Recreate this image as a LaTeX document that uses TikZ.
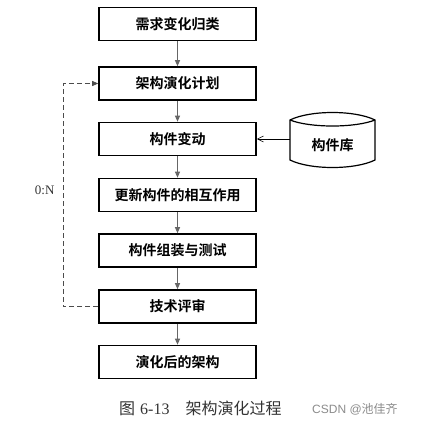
\documentclass[tikz,border=0pt]{standalone}
\usepackage{fontspec}
\setmainfont{Liberation Serif}
\newfontfamily\cjk{Noto Sans CJK SC}[BoldFont={Noto Sans CJK SC Bold}]
\usetikzlibrary{arrows.meta}
\begin{document}
\begin{tikzpicture}[x=1pt,y=-1pt,
  stepbox/.style={draw=black,line width=1.6pt,minimum width=157pt,minimum height=33pt,inner sep=0pt,font=\cjk\bfseries\fontsize{14}{14}\selectfont},
  flow/.style={draw=black!60,line width=1.1pt,-{Triangle[length=6pt,width=5pt]}},
  fb/.style={draw=black!70,line width=0.8pt,dash pattern=on 5pt off 3pt,-{Triangle[length=6pt,width=5pt]}},
  lib/.style={draw=black,line width=0.6pt,-{Straight Barb[length=6pt,width=6pt]}}]
\useasboundingbox (0,0) rectangle (427,425);
\fill[white] (0,0) rectangle (427,425);
\node[stepbox] (n1) at (177.5,24) {需求变化归类};
\node[stepbox] (n2) at (177.5,83.5) {架构演化计划};
\node[stepbox] (n3) at (177.5,139) {构件变动};
\node[stepbox] (n4) at (177.5,195) {更新构件的相互作用};
\node[stepbox] (n5) at (177.5,250.5) {构件组装与测试};
\node[stepbox] (n6) at (177.5,306.5) {技术评审};
\node[stepbox] (n7) at (177.5,362) {演化后的架构};
\draw[flow] (n1) -- (n2);
\draw[flow] (n2) -- (n3);
\draw[flow] (n3) -- (n4);
\draw[flow] (n4) -- (n5);
\draw[flow] (n5) -- (n6);
\draw[flow] (n6) -- (n7);
% cylinder
\draw[line width=1.2pt] (290,120) .. controls (310,110) and (355,110) .. (375,120)
  -- (375,160) .. controls (355,170) and (310,170) .. (290,160) -- cycle;
\draw[line width=1.2pt] (290,120) .. controls (310,128) and (355,128) .. (375,120);
\node[font=\cjk\bfseries\fontsize{14}{14}\selectfont] (lib) at (332.5,145) {构件库};
\coordinate (libl) at (290,139);
\draw[lib] (libl) -- (n3.east |- libl);
% feedback
\coordinate (fa) at (63,306.5);
\coordinate (fb) at (63,83.5);
\draw[fb] (n6.west) -- (fa) -- (fb) -- (n2.west);
\node[font=\fontsize{13}{13}\selectfont,anchor=east,text=black!80] (lab) at (58,190) {0:N};
% caption
\node[anchor=west,inner sep=0pt,text=black!80] (cap) at (119,408) {{\cjk\fontsize{16}{16}\selectfont 图}\hspace{5pt}\fontsize{16}{16}\selectfont 6-13\hspace{16pt}{\cjk 架构演化过程}};
\node[anchor=west,inner sep=0pt,text=black!45,font=\fontsize{12}{12}\selectfont] (wm) at (312,409) {\fontspec{Liberation Sans}CSDN @{\cjk 池佳齐}};
\end{tikzpicture}
\end{document}
